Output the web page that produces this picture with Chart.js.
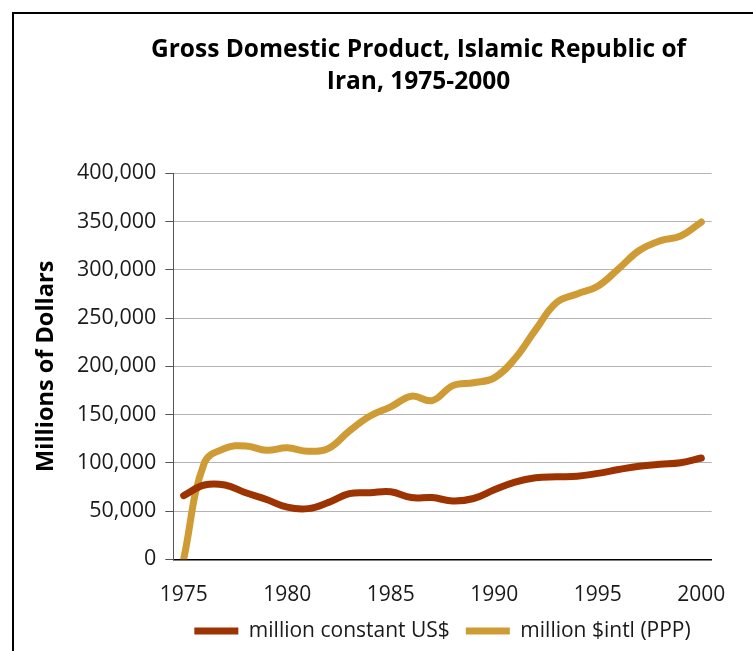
<!DOCTYPE html>
<html><head><meta charset="utf-8">
<script src="https://cdn.jsdelivr.net/npm/chart.js@4.4.1/dist/chart.umd.min.js"></script>
<style>
html,body{margin:0;padding:0;background:#fff;overflow:hidden;width:753px;height:651px;}
#frame{position:absolute;left:12px;top:12px;width:809px;height:660px;border:2px solid #000;background:#fff;}
canvas{display:block;}
</style></head><body>
<div id="frame"><canvas id="c" width="809" height="660" style="width:809px;height:660px"></canvas></div>
<script>
const years = ['1975','1976','1977','1978','1979','1980','1981','1982','1983','1984','1985','1986','1987',
  '1988','1989','1990','1991','1992','1993','1994','1995','1996','1997','1998','1999','2000'];
const constantUSD = [66000,77000,77000,69000,62000,54000,52500,59000,68000,69000,70000,64000,64000,
  60500,63000,72000,80000,84500,85500,86000,89000,93000,96500,98500,100000,105000];
const intlPPP = [0,100000,115000,117500,113000,115500,112000,115000,133000,148500,158000,169000,164500,
  180000,183000,188000,208000,238000,266000,275000,283000,301000,320000,330000,335000,349500];
const seriesNames = ['million constant US$','million $intl (PPP)'];
const titleLines = ['Gross Domestic Product, Islamic Republic of','Iran, 1975-2000'];
const yAxisTitle = 'Millions of Dollars';
const yMin = 0, yMax = 400000, yStep = 50000;
const labelEvery = 5;

const FONT = "'Open Sans', sans-serif";
const BROWN = '#9c3300', GOLD = '#cf9b34';

new Chart(document.getElementById('c'), {
  type: 'line',
  data: {
    labels: years,
    datasets: [
      {label: seriesNames[0], data: constantUSD, borderColor: BROWN, backgroundColor: BROWN,
       borderWidth: 7, pointRadius: 0, tension: 0.4, borderCapStyle: 'round', borderJoinStyle: 'round', clip: 0},
      {label: seriesNames[1], data: intlPPP, borderColor: GOLD, backgroundColor: GOLD,
       borderWidth: 7, pointRadius: 0, tension: 0.4, borderCapStyle: 'round', borderJoinStyle: 'round', clip: 0}
    ]
  },
  options: {
    responsive: false,
    animation: false,
    devicePixelRatio: 1,
    layout: {padding: {left: 0, right: 0, top: 0, bottom: 22.5}},
    plugins: {
      title: {display: true, text: titleLines, color: '#000',
        font: {family: FONT, size: 24.5, weight: 'bold', lineHeight: 1.306},
        padding: {top: 20, bottom: 75.3}},
      legend: {display: true, position: 'bottom', fullSize: false,
        labels: {usePointStyle: true, pointStyle: 'line', pointStyleWidth: 44, color: '#1a1a1a',
          font: {family: FONT, size: 21}, padding: 16}},
      tooltip: {enabled: false}
    },
    scales: {
      x: {type: 'category', offset: true,
        grid: {display: false, drawTicks: false},
        border: {display: true, color: '#000', width: 1.5},
        ticks: {autoSkip: false, maxRotation: 0, padding: 23.5, color: '#1a1a1a',
          font: {family: FONT, size: 21},
          callback: function(v, i) { const y = this.getLabelForValue(v); return (Number(y) % labelEvery === 0) ? y : ''; }},
        afterFit: (s) => { s.height = 45.2; }
      },
      y: {type: 'linear', position: 'left', min: yMin, max: yMax,
        ticks: {stepSize: yStep, padding: 9, color: '#1a1a1a', font: {family: FONT, size: 21.5}},
        grid: {color: '#b4b4b4', lineWidth: 1, tickColor: '#555', tickLength: 8},
        border: {display: true, color: '#555', width: 1},
        title: {display: true, text: yAxisTitle, color: '#000',
          font: {family: FONT, size: 23.5, weight: 'bold'}, padding: {top: 18, bottom: 0}},
        afterFit: (s) => { s.width = 159.3; }
      },
      yR: {type: 'linear', position: 'right', display: true,
        grid: {display: false, drawTicks: false}, border: {display: false},
        ticks: {display: false},
        afterFit: (s) => { s.width = 111.3; }
      }
    }
  }
});
</script>
</body></html>
